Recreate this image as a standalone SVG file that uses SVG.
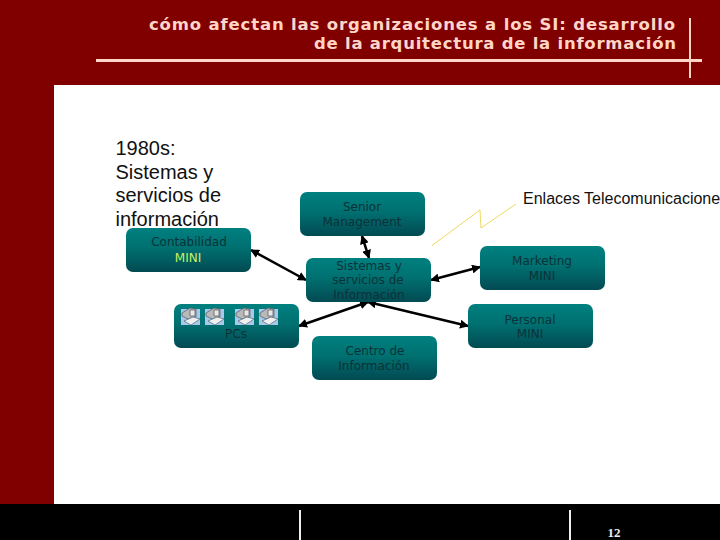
<svg xmlns="http://www.w3.org/2000/svg" width="720" height="540" viewBox="0 0 720 540">
<style>
.box{fill:url(#teal)}
.t{font-family:"DejaVu Sans",Verdana,sans-serif;font-size:12px;fill:#0c3238;text-anchor:middle}
.big{font-family:"Liberation Sans",Arial,sans-serif;font-size:20px;fill:#111}
.title{font-family:"DejaVu Sans",Verdana,sans-serif;font-size:16.5px;font-weight:700;fill:#ffd5c8;text-anchor:end}
.c{stroke:#000;stroke-width:2.5;fill:none;marker-start:url(#a);marker-end:url(#a)}
.rule{stroke:#ffd5c8;fill:none}
</style>
<defs>
<linearGradient id="teal" x1="0" y1="0" x2="0" y2="1"><stop offset="0" stop-color="#008080"/><stop offset=".45" stop-color="#007070"/><stop offset="1" stop-color="#024a52"/></linearGradient>
<marker id="a" markerWidth="9" markerHeight="9" refX="8" refY="4.500" orient="auto-start-reverse" markerUnits="userSpaceOnUse"><path d="M0 0L9 4.500L0 9Z" fill="#000"/></marker>
<g id="pc">
<rect x="0" y="2" width="19" height="16" fill="#a9c8ea"/>
<path d="M1 6L9 1L15 2L15 10L7 12L1 9Z" fill="#b9b9b9" stroke="#4a5a6a" stroke-width=".7"/>
<path d="M9 3L14 3L14 9L9 9Z" fill="#e8e8e8" stroke="#555" stroke-width=".7"/>
<path d="M3 14L12 10L19 12L10 18Z" fill="#f0f0f0" stroke="#4a6a7a" stroke-width=".7"/>
</g>
</defs>
<rect width="720" height="540" fill="#800000"/>
<rect x="54" y="85" width="666" height="419" fill="#fff"/>
<rect x="0" y="504" width="720" height="36" fill="#000"/>
<g id="header">
<text class="title" x="675" y="30" textLength="526" lengthAdjust="spacing">cómo afectan las organizaciones a los SI: desarrollo</text>
<text class="title" x="676" y="49" textLength="362" lengthAdjust="spacing">de la arquitectura de la información</text>
<path class="rule" stroke-width="3" d="M96 60.500H702"/>
<path class="rule" stroke-width="2" d="M690 18V78"/>
</g>
<g id="footer">
<path d="M300 510V540M570 510V540" stroke="#eee" stroke-width="2"/>
<text x="614" y="537" font-family="'Liberation Serif',serif" font-size="13" font-weight="700" fill="#eee" text-anchor="middle">12</text>
</g>
<g id="heading">
<text class="big" x="115.500" y="155">1980s:</text>
<text class="big" x="115.500" y="179">Sistemas y</text>
<text class="big" x="115.500" y="202">servicios de</text>
<text class="big" x="115.500" y="226">información</text>
</g>
<g id="connectors">
<path class="c" d="M251 250L306 280"/>
<path class="c" d="M362 236L369 258"/>
<path class="c" d="M299 326L368 302"/>
<path class="c" d="M468 326L368 302"/>
<path class="c" d="M480 267L431 280"/>
<path d="M432 245.500L480 210L481 228L516 204" fill="none" stroke="#f0d860" stroke-width="1"/>
</g>
<g id="contabilidad">
<rect class="box" x="126" y="228" width="125" height="44" rx="7"/>
<text class="t" x="189" y="246">Contabilidad</text>
<text class="t" x="188" y="262" style="fill:#c8f060">MINI</text>
</g>
<g id="senior">
<rect class="box" x="300" y="192" width="125" height="44" rx="7"/>
<text class="t" x="362" y="211">Senior</text>
<text class="t" x="362" y="226">Management</text>
</g>
<g id="sistemas">
<rect class="box" x="306" y="258" width="125" height="44" rx="7"/>
<text class="t" x="369" y="270">Sistemas y</text>
<text class="t" x="368" y="284">servicios de</text>
<text class="t" x="369" y="299">Información</text>
</g>
<g id="pcs">
<rect class="box" x="174" y="304" width="125" height="44" rx="7"/>
<use href="#pc" x="181" y="307"/>
<use href="#pc" x="205" y="307"/>
<use href="#pc" x="235" y="307"/>
<use href="#pc" x="259" y="307"/>
<text class="t" x="236" y="338">PCs</text>
</g>
<g id="centro">
<rect class="box" x="312" y="336" width="125" height="44" rx="7"/>
<text class="t" x="375" y="355">Centro de</text>
<text class="t" x="374" y="370">Información</text>
</g>
<g id="marketing">
<rect class="box" x="480" y="246" width="125" height="44" rx="7"/>
<text class="t" x="542" y="265">Marketing</text>
<text class="t" x="542" y="280">MINI</text>
</g>
<g id="personal">
<rect class="box" x="468" y="304" width="125" height="44" rx="7"/>
<text class="t" x="530" y="324">Personal</text>
<text class="t" x="530" y="338">MINI</text>
</g>
<text x="523" y="204" font-family="'Liberation Sans',Arial,sans-serif" font-size="16" fill="#111">Enlaces Telecomunicaciones</text>
</svg>
